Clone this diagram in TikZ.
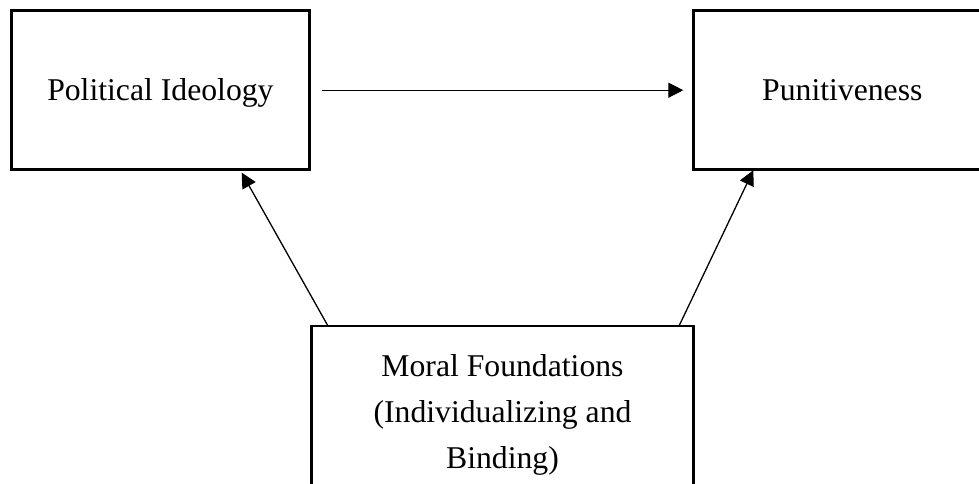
\documentclass[tikz,border=0pt]{standalone}
\usepackage{fontspec}
\setmainfont{Liberation Serif}
\usetikzlibrary{arrows.meta}
\begin{document}
\begin{tikzpicture}[x=1pt,y=-1pt,
  box/.style={draw, line width=2.7pt, outer sep=0pt, inner sep=0pt, align=center,
    font=\fontsize{31.7}{46}\selectfont},
  onebox/.style={box, minimum width=298pt, minimum height=159pt, text height=27pt, text depth=7.4pt},
  arr/.style={line width=1.3pt, -{Triangle[length=15pt,width=15pt]}}]
\useasboundingbox (0,0) rectangle (979,483);
\clip (0,0) rectangle (979,483);
\fill[white] (0,0) rectangle (979,483);
\node[onebox] (PI) at (160.4,90.2) {Political Ideology};
\node[onebox] (PU) at (842.3,90.2) {Punitiveness};
\node[box, minimum width=381.6pt, minimum height=178pt] (MF) at (502.5,415) {Moral Foundations\\(Individualizing and\\Binding)};
\draw[arr, shorten <=12.3pt, shorten >=10pt] (PI.east) -- (PU.west);
\draw[arr] ([xshift=16.3pt]MF.north west) -- ([xshift=81.3pt,yshift=-3pt]PI.south);
\draw[arr] ([xshift=-14.3pt]MF.north east) -- ([xshift=-89pt,yshift=-0.5pt]PU.south);
\end{tikzpicture}
\end{document}
